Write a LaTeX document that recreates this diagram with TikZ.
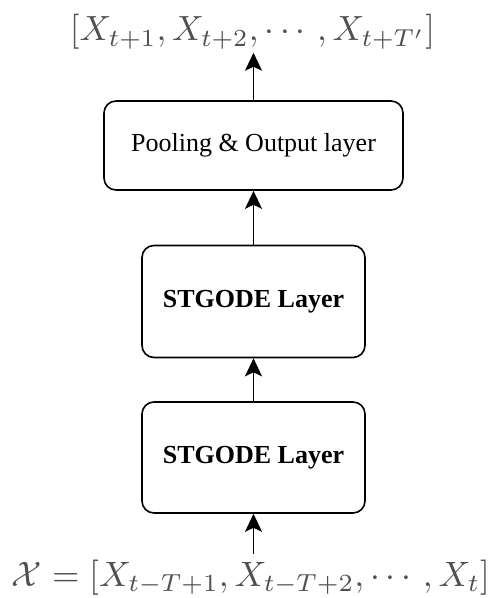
\documentclass[tikz,border=0pt]{standalone}
\usepackage{fontspec}
\usepackage{amsmath}
\setmainfont{Liberation Serif}
\usetikzlibrary{arrows.meta}
\definecolor{mathgray}{HTML}{505050}
\tikzset{
  layerbox/.style={draw, line width=1.6pt, rounded corners=12pt, inner sep=0pt, font=\fontsize{26}{30}\selectfont, align=center},
  flow/.style={line width=1.6pt, -{Stealth[length=18pt,width=17pt,inset=4pt]}},
  seqlabel/.style={inner sep=0pt, text=mathgray}
}
\begin{document}
\begin{tikzpicture}[x=1pt,y=-1pt]
  \useasboundingbox (0,0) rectangle (495,598);
  % output sequence
  \node[seqlabel] (out) at (252.5,32) {\resizebox{365pt}{!}{$[X_{t+1},X_{t+2},\cdots,X_{t+T'}]$}};
  % layers
  \node[layerbox, minimum width=299pt, minimum height=89pt] (pool) at (253.5,145.5) {Pooling \& Output layer};
  \node[layerbox, minimum width=223pt, minimum height=112pt, font=\fontsize{26}{30}\selectfont\bfseries] (ode2) at (253.5,301.5) {STGODE Layer};
  \node[layerbox, minimum width=223pt, minimum height=111pt, font=\fontsize{26}{30}\selectfont\bfseries] (ode1) at (253.5,457.5) {STGODE Layer};
  % input sequence
  \node[seqlabel, anchor=north] (in) at (251,560) {\resizebox{478pt}{!}{$\mathcal{X}=[X_{t-T+1},X_{t-T+2},\cdots,X_{t}]$}};
  \coordinate (inarr) at ([yshift=6pt]in.north -| ode1.south);
  % connectors
  \draw[flow] (inarr) -- (ode1.south);
  \draw[flow] (ode1.north) -- (ode2.south);
  \draw[flow] (ode2.north) -- (pool.south);
  \draw[flow, shorten >=3pt] (pool.north) -- (pool.north |- out.south);
\end{tikzpicture}
\end{document}
